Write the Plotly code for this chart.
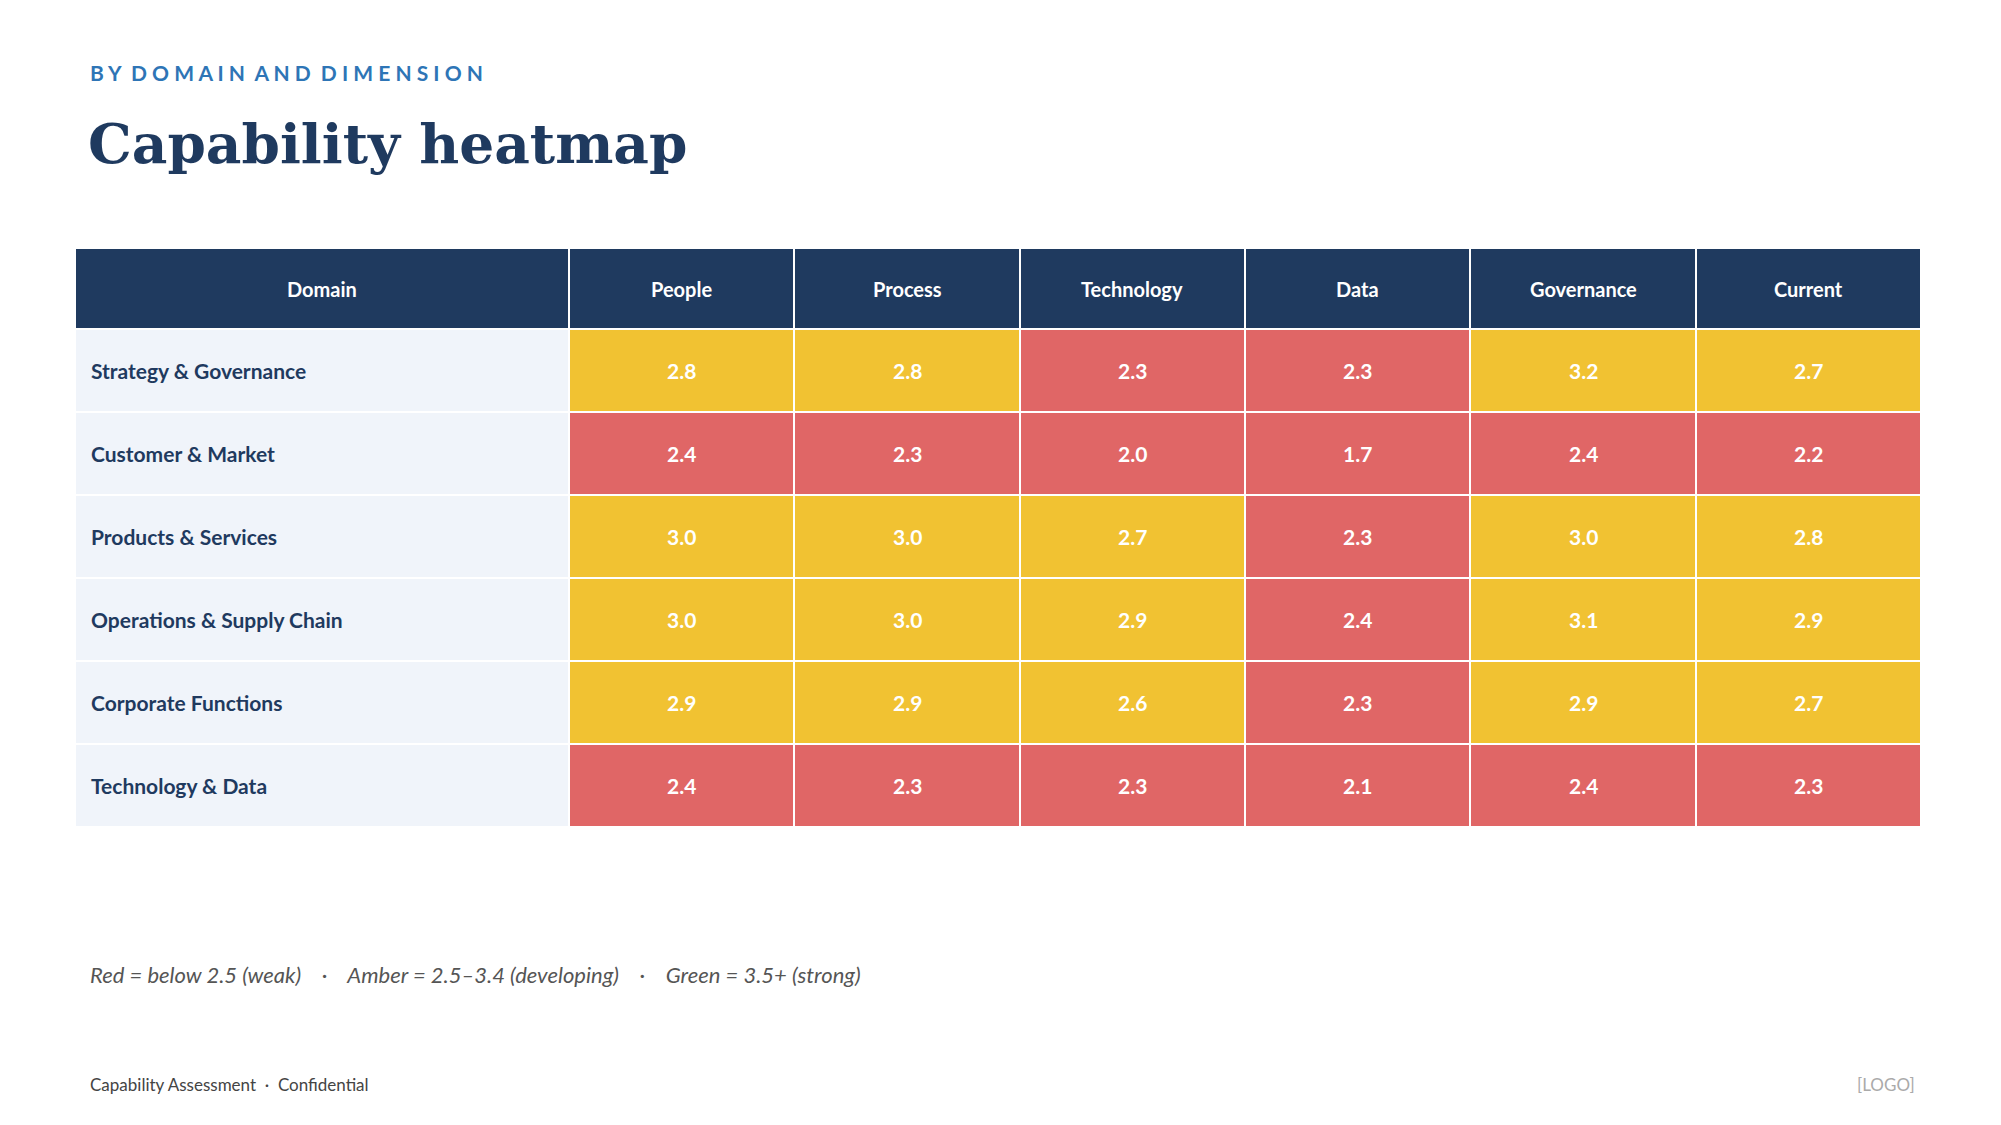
import plotly.graph_objects as go

domains = ["Strategy & Governance", "Customer & Market", "Products & Services",
           "Operations & Supply Chain", "Corporate Functions", "Technology & Data"]
dimensions = ["People", "Process", "Technology", "Data", "Governance", "Current"]
people = [2.8, 2.4, 3.0, 3.0, 2.9, 2.4]
process = [2.8, 2.3, 3.0, 3.0, 2.9, 2.3]
technology = [2.3, 2.0, 2.7, 2.9, 2.6, 2.3]
data = [2.3, 1.7, 2.3, 2.4, 2.3, 2.1]
governance = [3.2, 2.4, 3.0, 3.1, 2.9, 2.4]
current = [2.7, 2.2, 2.8, 2.9, 2.7, 2.3]
cols = [people, process, technology, data, governance, current]

navy = "#1F3A5F"
palette = ["#F0F4FA", navy, "#E06666", "#F1C232", "#6AA84F"]
def code(v):
    return 2 if v < 2.5 else (3 if v < 3.5 else 4)

colw = [386] + [176] * 6
xe = [0]
for w in colw:
    xe.append(xe[-1] + w)
rowh = [81] + [83] * len(domains)
ye = [0]
for h in rowh:
    ye.append(ye[-1] + h)

z = [[1] * 7]
for i in range(len(domains)):
    z.append([0] + [code(c[i]) for c in cols])

n = len(palette)
cs = []
for k, c in enumerate(palette):
    cs += [[k / n, c], [(k + 1) / n, c]]

fig = go.Figure(go.Heatmap(z=z, x=xe, y=ye, zmin=-0.5, zmax=n - 0.5, colorscale=cs,
                           showscale=False, xgap=2, ygap=2, hoverinfo="skip"))

xc = [(xe[i] + xe[i + 1]) / 2 for i in range(7)]
yc = [(ye[i] + ye[i + 1]) / 2 for i in range(len(rowh))]
for j, h in enumerate(["Domain"] + dimensions):
    fig.add_annotation(x=xc[j], y=yc[0], text="<b>%s</b>" % h, showarrow=False,
                       font=dict(family="Lato", size=20, color="white"))
for i, d in enumerate(domains):
    fig.add_annotation(x=11, y=yc[i + 1], text="<b>%s</b>" % d, showarrow=False, xanchor="left",
                       font=dict(family="Lato", size=21, color=navy))
    for j, c in enumerate(cols):
        fig.add_annotation(x=xc[j + 1], y=yc[i + 1], text="<b>%.1f</b>" % c[i], showarrow=False,
                           font=dict(family="Lato", size=21, color="white"))

W, H = 2001, 1125
L, R, T, B = 67, 1913, 240, 819
ann = [
    dict(text="<b>B Y  D O M A I N  A N D  D I M E N S I O N</b>", x=80, y=64, size=21, color="#2E75B6", family="Lato"),
    dict(text="<b>Capability heatmap</b>", x=78, y=135, size=55, color=navy, family="DejaVu Serif"),
    dict(text="<i>Red = below 2.5 (weak)    ·    Amber = 2.5–3.4 (developing)    ·    Green = 3.5+ (strong)</i>",
         x=80, y=967, size=22, color="#555555", family="Lato"),
    dict(text="Capability Assessment  ·  Confidential", x=80, y=1076, size=17, color="#444444", family="Lato"),
]
for a in ann:
    fig.add_annotation(text=a["text"], x=(a["x"] - L) / (R - L), y=(H - a["y"] - (H - B)) / (B - T),
                       xref="paper", yref="paper", xanchor="left", yanchor="middle", showarrow=False,
                       font=dict(size=a["size"], color=a["color"], family=a["family"]))
fig.add_annotation(text="[LOGO]", x=(1909 - L) / (R - L), y=(H - 1076 - (H - B)) / (B - T),
                   xref="paper", yref="paper", xanchor="right", yanchor="middle", showarrow=False,
                   font=dict(size=17, color="#AAAAAA", family="Lato"))

fig.update_xaxes(range=[0, xe[-1]], visible=False, fixedrange=True)
fig.update_yaxes(range=[ye[-1], 0], visible=False, fixedrange=True)
fig.update_layout(width=W, height=H, margin=dict(l=L, r=W - R, t=T, b=H - B),
                  paper_bgcolor="white", plot_bgcolor="white")
fig.write_html("out.html")
